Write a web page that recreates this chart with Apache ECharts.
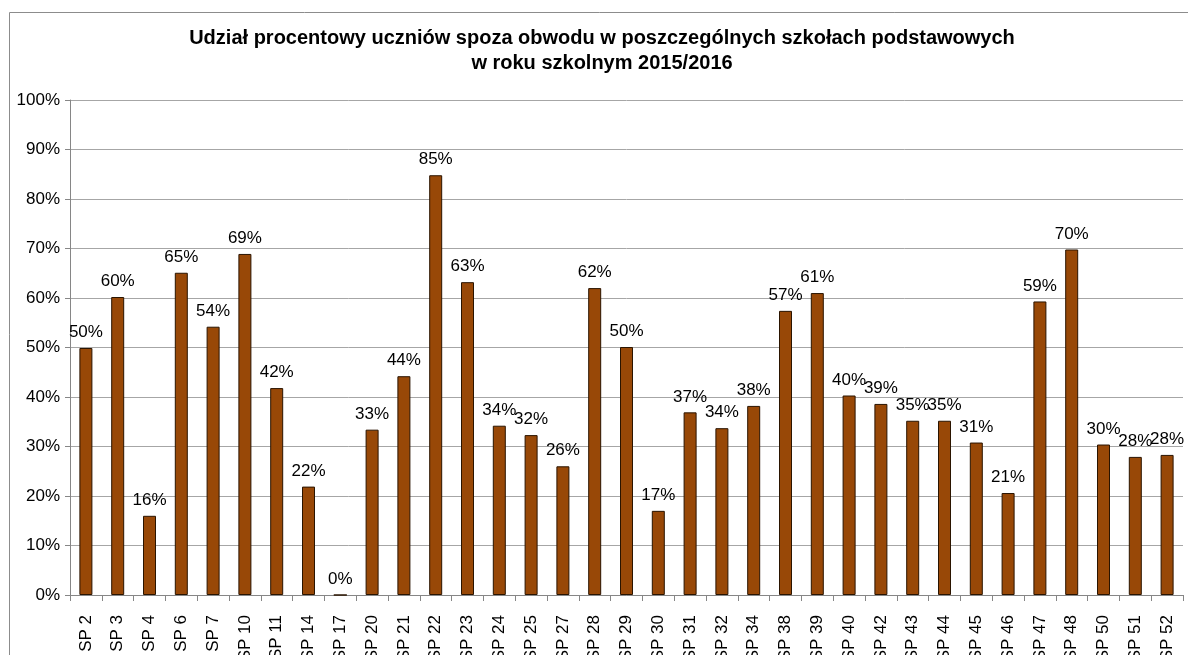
<!DOCTYPE html>
<html>
<head>
<meta charset="utf-8">
<script src="https://cdn.jsdelivr.net/npm/echarts@6/dist/echarts.min.js"></script>
<style>
  html, body { margin: 0; padding: 0; background: #fff; }
  #chart { width: 1188px; height: 655px; }
</style>
</head>
<body>
<div id="chart"></div>
<script>
const schools = [
  'SP 2', 'SP 3', 'SP 4', 'SP 6', 'SP 7', 'SP 10', 'SP 11', 'SP 14', 'SP 17',
  'SP 20', 'SP 21', 'SP 22', 'SP 23', 'SP 24', 'SP 25', 'SP 27', 'SP 28',
  'SP 29', 'SP 30', 'SP 31', 'SP 32', 'SP 34', 'SP 38', 'SP 39', 'SP 40',
  'SP 42', 'SP 43', 'SP 44', 'SP 45', 'SP 46', 'SP 47', 'SP 48', 'SP 50',
  'SP 51', 'SP 52',
]

// percent of pupils from outside the school district
const shares = [
  49.9, 60.2, 16.0, 65.1, 54.2, 68.9, 41.8, 21.9, 0,
  33.4, 44.2, 84.8, 63.2, 34.2, 32.3, 26.0, 62.0,
  50.1, 17.0, 36.9, 33.7, 38.2, 57.4, 61.0, 40.3,
  38.6, 35.2, 35.2, 30.8, 20.6, 59.3, 69.8, 30.4,
  27.9, 28.3,
]

const titleLines = [
  'Udział procentowy uczniów spoza obwodu w poszczególnych szkołach podstawowych',
  'w roku szkolnym 2015/2016',
]

const font = '"Liberation Sans", Arial, sans-serif'
const chart = echarts.init(document.getElementById('chart'))

chart.setOption({
  animation: false,
  textStyle: { fontFamily: font },
  title: {
    text: titleLines.join('\n'),
    left: 602,
    top: 26,
    padding: 0,
    textAlign: 'center',
    textStyle: {
      fontFamily: font,
      fontSize: 20,
      fontWeight: 'bold',
      color: '#000',
      lineHeight: 25,
    },
  },
  graphic: [
    {
      type: 'polyline',
      shape: { points: [[9.5, 700], [9.5, 12.5], [1200, 12.5]] },
      style: { stroke: '#8c8c8c', lineWidth: 1, fill: null },
      silent: true,
    },
  ],
  grid: {
    left: 70,
    right: 5,
    top: 100,
    bottom: 60,
    containLabel: false,
    outerBoundsMode: 'none',
  },
  xAxis: {
    type: 'category',
    data: schools,
    axisLine: { lineStyle: { color: '#868686' } },
    axisTick: { show: true, length: 6, lineStyle: { color: '#868686' } },
    axisLabel: {
      rotate: 90,
      interval: 0,
      margin: 20,
      fontSize: 17,
      color: '#000',
      fontFamily: font,
    },
  },
  yAxis: {
    type: 'value',
    min: 0,
    max: 100,
    interval: 10,
    axisLine: { show: true, lineStyle: { color: '#868686' } },
    axisTick: { show: true, length: 5, lineStyle: { color: '#868686' } },
    splitLine: { lineStyle: { color: '#a6a6a6' } },
    axisLabel: {
      formatter: '{value}%',
      fontSize: 17,
      margin: 10,
      color: '#000',
      fontFamily: font,
    },
  },
  series: [
    {
      type: 'bar',
      data: shares,
      barWidth: 13,
      itemStyle: {
        color: '#984807',
        borderColor: '#2a1400',
        borderWidth: 1,
      },
      label: {
        show: true,
        position: 'top',
        distance: 7,
        fontSize: 17,
        color: '#000',
        fontFamily: font,
        formatter: (p) => Math.round(p.value) + '%',
      },
    },
  ],
})
</script>
</body>
</html>
